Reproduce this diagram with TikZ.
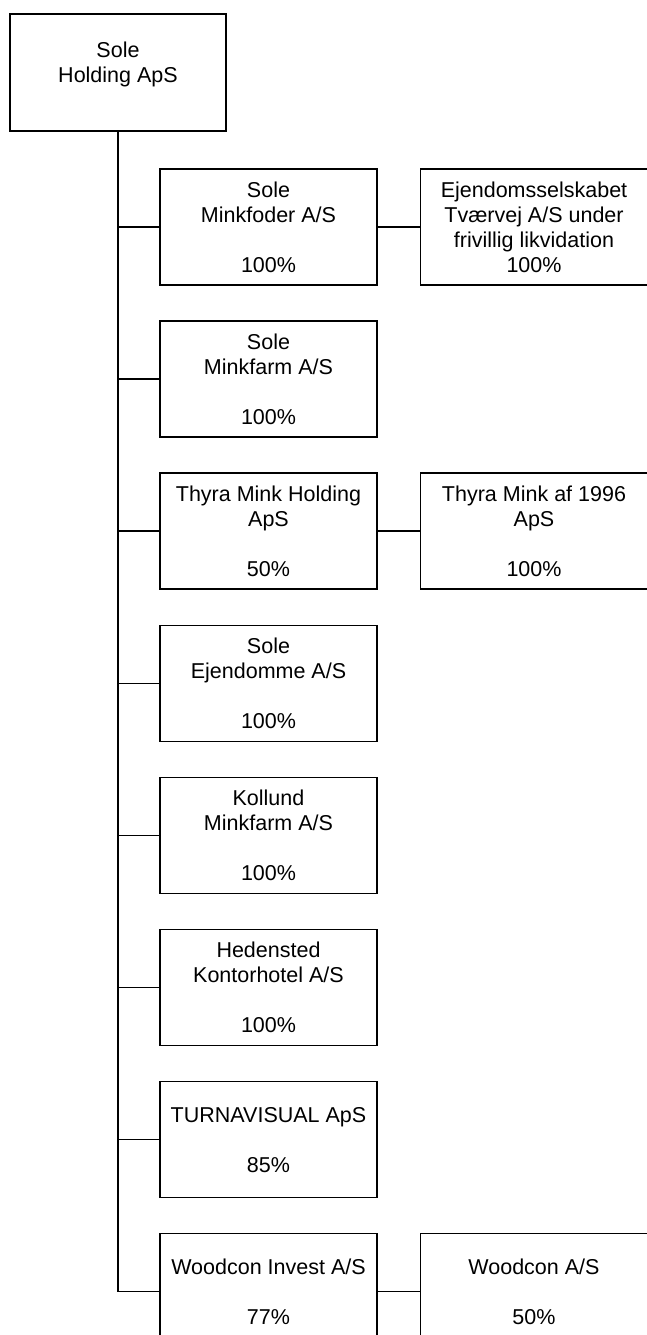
\documentclass[tikz,border=0pt]{standalone}
\usepackage{fontspec}
\setmainfont{Liberation Sans}
\usetikzlibrary{positioning}

\begin{document}
\begin{tikzpicture}[
    x = 1pt, y = -1pt,
    node distance = 34.6pt and 42pt,
    firma/.style = {rectangle, draw, line width=1.5pt, align=center,
                    minimum width=217pt, minimum height=116pt, inner sep=2pt},
    firmabred/.style = {firma, minimum width=227pt},
    linje/.style = {black, line width=1.5pt},
    font=\fontsize{21.5pt}{25pt}\selectfont
    ]

  \clip (0,0) rectangle (647,1335);

  \node[firma, minimum width=216pt, minimum height=117pt] (sole) at (118,72.5) {Sole\\Holding ApS\\[-5pt]~} ;

  \node[firma] (minkfoder) at (268.5,227) {Sole\\Minkfoder A/S\\~\\100\%} ;
  \node[firma] (minkfarm) [below=of minkfoder] {Sole\\Minkfarm A/S\\~\\100\%} ;
  \node[firma] (thyra) [below=of minkfarm] {Thyra Mink Holding\\ApS\\~\\50\%} ;
  \node[firma] (ejendomme) [below=of thyra] {Sole\\Ejendomme A/S\\~\\100\%} ;
  \node[firma] (kollund) [below=of ejendomme] {Kollund\\Minkfarm A/S\\~\\100\%} ;
  \node[firma] (hedensted) [below=of kollund] {Hedensted\\Kontorhotel A/S\\~\\100\%} ;
  \node[firma] (turna) [below=of hedensted] {TURNAVISUAL ApS\\~\\85\%} ;
  \node[firma] (woodinv) [below=of turna] {Woodcon Invest A/S\\~\\77\%} ;

  \node[firmabred] (tvaervej) [right=of minkfoder] {Ejendomsselskabet\\Tværvej A/S under\\frivillig likvidation\\100\%} ;
  \node[firmabred] (thyra96) [right=of thyra] {Thyra Mink af 1996\\ApS\\~\\100\%} ;
  \node[firmabred] (woodcon) [right=of woodinv] {Woodcon A/S\\~\\50\%} ;

  \draw[linje]
  (sole) |- (woodinv)
  (sole |- minkfoder) edge (minkfoder)
  (sole |- minkfarm) edge (minkfarm)
  (sole |- thyra) edge (thyra)
  (sole |- ejendomme) edge (ejendomme)
  (sole |- kollund) edge (kollund)
  (sole |- hedensted) edge (hedensted)
  (sole |- turna) edge (turna)

  (minkfoder) edge (tvaervej)
  (thyra) edge (thyra96)
  (woodinv) edge (woodcon);

\end{tikzpicture}
\end{document}
